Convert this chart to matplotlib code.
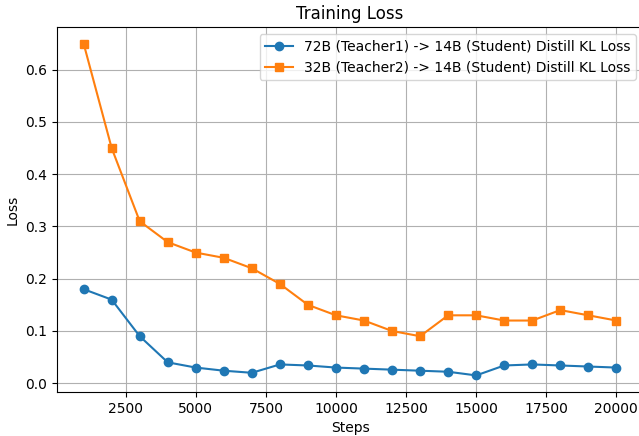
import matplotlib
matplotlib.use("Agg")
import matplotlib.pyplot as plt

steps = [1000, 2000, 3000, 4000, 5000, 6000, 7000, 8000, 9000, 10000,
         11000, 12000, 13000, 14000, 15000, 16000, 17000, 18000, 19000, 20000]
loss_72b = [0.18, 0.16, 0.09, 0.04, 0.03, 0.024, 0.02, 0.036, 0.034, 0.03,
            0.028, 0.026, 0.024, 0.022, 0.015, 0.034, 0.036, 0.034, 0.032, 0.03]
loss_32b = [0.65, 0.45, 0.31, 0.27, 0.25, 0.24, 0.22, 0.19, 0.15, 0.13,
            0.12, 0.10, 0.09, 0.13, 0.13, 0.12, 0.12, 0.14, 0.13, 0.12]
label_72b = "72B (Teacher1) -> 14B (Student) Distill KL Loss"
label_32b = "32B (Teacher2) -> 14B (Student) Distill KL Loss"

W, H = 639, 436
fig = plt.figure(figsize=(W / 100, H / 100), dpi=100)
ax = fig.add_axes([57 / W, (H - 392) / H, 586 / W, (392 - 27) / H])
ax.plot(steps, loss_72b, marker="o", label=label_72b)
ax.plot(steps, loss_32b, marker="s", label=label_32b)
ax.set_title("Training Loss")
ax.set_xlabel("Steps")
ax.set_ylabel("Loss")
ax.grid(True)
ax.legend(loc="upper right")
fig.savefig("out.png", dpi=100)
